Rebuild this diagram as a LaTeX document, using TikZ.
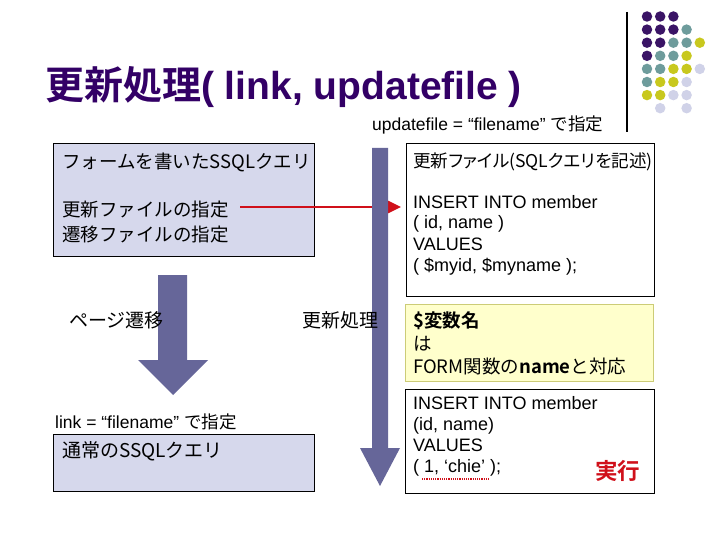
\documentclass[tikz,border=0pt]{standalone}
\usepackage{fontspec}
\usetikzlibrary{arrows.meta}
\setmainfont{Liberation Sans}
\newfontfamily\cjk{Noto Sans CJK JP}[BoldFont={Noto Sans CJK JP Bold}]
\newfontfamily\cjkp{Noto Sans CJK JP}[RawFeature=+palt]
\newcommand\J[1]{{\cjk #1}}
\definecolor{titlec}{HTML}{330066}
\definecolor{lav}{HTML}{D6D8EC}
\definecolor{arrc}{HTML}{666699}
\definecolor{redc}{HTML}{D0101A}
\definecolor{yelf}{HTML}{FFFFCC}
\definecolor{yelb}{HTML}{CCCC77}
\definecolor{dP}{HTML}{3A1466}
\definecolor{dT}{HTML}{6E9C9C}
\definecolor{dY}{HTML}{C8C81E}
\definecolor{dL}{HTML}{D0D2E8}
\tikzset{
  txt/.style={anchor=base west, inner sep=0pt, font=\fontsize{18}{21}\selectfont},
  jtxt/.style={anchor=base west, inner sep=0pt, font=\cjk\fontsize{18.5}{21}\selectfont},
  ltxt/.style={anchor=base west, inner sep=0pt, font=\cjk\fontsize{19}{21}\selectfont},
  stxt/.style={anchor=base west, inner sep=0pt, font=\fontsize{17.5}{19}\selectfont},
  boxl/.style={draw=black, line width=0.8pt, fill=lav, anchor=north west, inner sep=0pt},
  boxw/.style={draw=black, line width=0.8pt, fill=white, anchor=north west, inner sep=0pt},
  boxy/.style={draw=yelb, line width=0.8pt, fill=yelf, anchor=north west, inner sep=0pt},
  bigarrow/.style={fill=arrc, draw=none},
  dot/.style={circle, inner sep=0pt, minimum size=10.5pt, draw=none}
}
\begin{document}
\begin{tikzpicture}[x=1pt,y=-1pt]
\useasboundingbox[fill=white] (0,0) rectangle (720,540);
% decorative dots and line
\coordinate (vl1) at (627,12);
\coordinate (vl2) at (627,132);
\draw[line width=1.2pt] (vl1) -- (vl2);
\foreach \i/\r/\c in {0/0/P,1/0/P,2/0/P,
  0/1/P,1/1/P,2/1/P,3/1/T,
  0/2/P,1/2/P,2/2/T,3/2/T,4/2/Y,
  0/3/P,1/3/T,2/3/T,3/3/Y,
  0/4/T,1/4/T,2/4/Y,3/4/Y,4/4/L,
  0/5/T,1/5/Y,2/5/Y,3/5/L,
  0/6/Y,1/6/Y,2/6/L,3/6/L,
  1/7/L,3/7/L}{
  \node[dot, fill=d\c] (d\r\i) at ({647+13.2*\i},{16.5+13.1*\r}) {};
}
% title
\node[anchor=base west, inner sep=0pt, text=titlec, font=\bfseries\fontsize{39}{42}\selectfont] (title) at (45,100) {\J{更新処理}( link, updatefile )};
% left top box
\node[boxl, minimum width=261pt, minimum height=113pt] (boxA) at (53,143) {};
\node[jtxt] (a1) at (62,169) {フォームを書いたSSQLクエリ};
\node[jtxt] (a2) at (62,217) {更新ファイルの指定};
\node[jtxt] (a3) at (62,241) {遷移ファイルの指定};
% right boxes
\node[stxt] (upd) at (372,131) {updatefile = “filename” \J{で指定}};
\node[boxw, minimum width=248pt, minimum height=153pt] (boxC) at (406,143) {};
\node[jtxt, font=\cjkp\fontsize{17.6}{21}\selectfont] (c1) at (413,168) {更新ファイル(SQLクエリを記述)};
\node[txt] (c2) at (413,208) {INSERT INTO member};
\node[txt] (c3) at (413,229) {( id, name )};
\node[txt] (c4) at (413,250) {VALUES};
\node[txt] (c5) at (413,271) {( \$myid, \$myname );};
\node[boxy, minimum width=248pt, minimum height=77pt] (boxD) at (405,304) {};
\node[jtxt] (d1) at (413,327) {\bfseries \$変数名};
\node[jtxt] (d2) at (413,350) {は};
\node[jtxt] (d3) at (413,373) {FORM関数の{\bfseries name}と対応};
\node[boxw, minimum width=249pt, minimum height=104pt] (boxE) at (405,389) {};
\node[txt] (e1) at (413,409) {INSERT INTO member};
\node[txt] (e2) at (413,430) {(id, name)};
\node[txt] (e3) at (413,451) {VALUES};
\node[txt] (e4) at (413,472) {( 1, ‘chie’ );};
\node[anchor=base west, inner sep=0pt, text=redc, font=\cjk\bfseries\fontsize{22.5}{24}\selectfont] (exec) at (595,479) {実行};
\coordinate (ul1) at (422,479);
\coordinate (ul2) at (489,479);
\draw[redc, line width=1.6pt, dash pattern=on 1.2pt off 1pt] (ul1) -- (ul2);
% red arrow
\coordinate (rs) at (240,207);
\draw[redc, line width=2.5pt, -{Triangle[length=13pt,width=12pt]}, shorten >=5pt] (rs) -- (rs -| boxC.west);
% big arrows
\fill[bigarrow] (158,275) -- (187,275) -- (187,360) -- (208,360) -- (173,395) -- (138,360) -- (158,360) -- cycle;
\fill[bigarrow] (372,148) -- (388,148) -- (388,448) -- (400,448) -- (380,486) -- (360,448) -- (372,448) -- cycle;
\node[ltxt] (pg) at (69,327) {ページ遷移};
\node[ltxt] (up) at (302,327) {更新処理};
% bottom left
\node[stxt] (lnk) at (55,428) {link = “filename” \J{で指定}};
\node[boxl, minimum width=261pt, minimum height=57pt] (boxB) at (53,434) {};
\node[ltxt] (b1) at (62,457) {通常のSSQLクエリ};
\end{tikzpicture}
\end{document}
